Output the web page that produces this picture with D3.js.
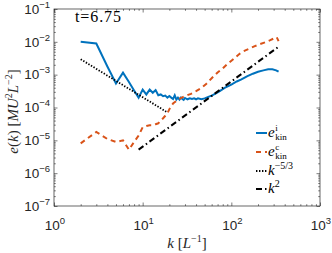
<!DOCTYPE html>
<html>
<head>
<meta charset="utf-8">
<script src="https://cdn.jsdelivr.net/npm/d3@7"></script>
<style>
body { margin: 0; background: #fff; }
svg { display: block; }
</style>
</head>
<body>
<div class="chart"></div>
<script>
// incompressible kinetic energy spectrum (blue)
var kIncomp = [2, 3, 4, 5, 6, 7, 8, 9, 10, 11, 12, 13, 14, 15, 16, 17, 18, 19, 20, 21, 22, 23, 24, 25, 26, 27, 28, 29, 30,
  32, 34, 36, 38, 40, 42, 46, 50, 55, 60, 67, 74, 85, 100, 115, 130, 150, 175, 200, 230, 260, 290, 320, 341];
var eIncomp = [1.0e-2, 8.9e-3, 1.78e-3, 5.4e-4, 1.15e-3, 6.0e-4, 3.3e-4, 2.0e-4, 3.5e-4, 2.5e-4, 3.5e-4, 2.8e-4, 3.4e-4, 2.35e-4,
  2.5e-4, 2.2e-4, 2.3e-4, 2.0e-4, 2.24e-4, 2.0e-4, 1.82e-4, 2.35e-4, 1.74e-4, 2.0e-4, 1.74e-4, 2.0e-4, 1.82e-4, 1.7e-4, 1.95e-4,
  1.78e-4, 1.9e-4, 1.82e-4, 1.9e-4, 1.78e-4, 1.9e-4, 1.78e-4, 1.9e-4, 2.1e-4, 2.3e-4, 2.7e-4, 3.16e-4, 4.0e-4, 5.0e-4,
  6.2e-4, 7.2e-4, 8.9e-4, 1.07e-3, 1.23e-3, 1.35e-3, 1.45e-3, 1.45e-3, 1.35e-3, 1.23e-3];

// compressible kinetic energy spectrum (orange, dashed)
var kComp = [2, 3, 4, 5, 6, 7, 8, 9, 10, 11, 12, 13, 14, 15, 16, 17, 18, 19, 20, 22, 25, 28, 31, 35, 40, 45, 52, 60, 70, 80,
  92, 105, 125, 142, 162, 184, 210, 250, 275, 300, 325, 341];
var eComp = [8.1e-6, 1.8e-5, 1.1e-5, 8.9e-6, 1.0e-5, 5.2e-6, 8.9e-6, 1.4e-5, 2.5e-5, 2.75e-5, 2.9e-5, 2.9e-5, 3.1e-5, 3.3e-5,
  4.0e-5, 4.7e-5, 5.6e-5, 6.6e-5, 8.9e-5, 1.32e-4, 1.74e-4, 2.04e-4, 2.3e-4, 2.6e-4, 3.16e-4, 3.8e-4, 5.2e-4, 7.8e-4,
  1.17e-3, 1.55e-3, 2.2e-3, 2.95e-3, 4.4e-3, 5.4e-3, 6.3e-3, 7.4e-3, 8.5e-3, 1.0e-2, 1.12e-2, 1.26e-2, 1.38e-2, 1.05e-2];

// reference slopes (end points)
var kFive3 = [2, 19], eFive3 = [2.95e-3, 7.1e-5];
var kSq = [9, 341], eSq = [5.2e-6, 7.1e-3];

var xTicks = [1, 10, 100, 1000], xExp = ['0', '1', '2', '3'];
var yTicks = [1e-7, 1e-6, 1e-5, 1e-4, 1e-3, 1e-2, 1e-1], yExp = ['-7', '-6', '-5', '-4', '-3', '-2', '-1'];

var width = 332, height = 253;
var plotL = 54, plotR = 320, plotT = 9, plotB = 206;
var axisColor = '#262626';
var serif = '"Liberation Serif", "DejaVu Serif", serif';
var sans = '"Liberation Sans", Arial, sans-serif';

var svg = d3.select('.chart').append('svg')
  .attr('width', width)
  .attr('height', height);

var x = d3.scaleLog().domain([1, 1000]).range([plotL, plotR]);
var y = d3.scaleLog().domain([1e-7, 1e-1]).range([plotB, plotT]);

function minors(ticks) {
  var out = [];
  ticks.slice(0, -1).forEach(function(t) {
    for (var i = 2; i < 10; i++) out.push(t * i);
  });
  return out;
}

// ticks on all four sides, pointing inward
function ticksOn(axisFn, scale, vals, size, tr) {
  var g = svg.append('g')
    .attr('transform', tr)
    .call(axisFn(scale).tickValues(vals).tickSize(size).tickSizeOuter(0).tickFormat(''));
  g.select('.domain').remove();
  g.selectAll('line').attr('stroke', axisColor).attr('stroke-width', 0.6);
}
ticksOn(d3.axisBottom, x, xTicks, -3.5, 'translate(0,' + plotB + ')');
ticksOn(d3.axisBottom, x, minors(xTicks), -1.8, 'translate(0,' + plotB + ')');
ticksOn(d3.axisTop, x, xTicks, -3.5, 'translate(0,' + plotT + ')');
ticksOn(d3.axisTop, x, minors(xTicks), -1.8, 'translate(0,' + plotT + ')');
ticksOn(d3.axisLeft, y, yTicks, -3.5, 'translate(' + plotL + ',0)');
ticksOn(d3.axisLeft, y, minors(yTicks), -1.8, 'translate(' + plotL + ',0)');
ticksOn(d3.axisRight, y, yTicks, -3.5, 'translate(' + plotR + ',0)');
ticksOn(d3.axisRight, y, minors(yTicks), -1.8, 'translate(' + plotR + ',0)');

svg.append('rect')
  .attr('x', plotL).attr('y', plotT)
  .attr('width', plotR - plotL).attr('height', plotB - plotT)
  .attr('fill', 'none')
  .attr('stroke', axisColor)
  .attr('stroke-width', 0.7);

// tick labels 10^n
xTicks.forEach(function(t, i) {
  var tx = svg.append('text')
    .attr('x', x(t) + 1).attr('y', 230)
    .attr('text-anchor', 'middle')
    .attr('fill', axisColor)
    .style('font-family', sans);
  tx.append('tspan').style('font-size', '13.5px').text('10');
  tx.append('tspan').attr('dy', -6).style('font-size', '9.5px').text(xExp[i]);
});
yTicks.forEach(function(t, i) {
  var ty = svg.append('text')
    .attr('x', 50).attr('y', y(t) + 4.7)
    .attr('text-anchor', 'end')
    .attr('fill', axisColor)
    .style('font-family', sans);
  ty.append('tspan').style('font-size', '13.5px').text('10');
  ty.append('tspan').attr('dy', -6).style('font-size', '9.5px').text(yExp[i].replace('-', '\u2212'));
});

// axis titles
var xt = svg.append('text')
  .attr('x', (plotL + plotR) / 2).attr('y', 248)
  .attr('text-anchor', 'middle')
  .attr('fill', axisColor)
  .style('font-family', serif).style('font-size', '15px');
xt.append('tspan').style('font-style', 'italic').text('k');
xt.append('tspan').text(' [');
xt.append('tspan').style('font-style', 'italic').text('L');
xt.append('tspan').attr('dy', -6).style('font-size', '10px').text('\u22121');
xt.append('tspan').attr('dy', 6).text(']');

var yt = svg.append('text')
  .attr('transform', 'translate(18,' + ((plotT + plotB) / 2 + 4) + ') rotate(-90)')
  .attr('text-anchor', 'middle')
  .attr('fill', axisColor)
  .style('font-family', serif).style('font-size', '15px');
yt.append('tspan').style('font-style', 'italic').text('e');
yt.append('tspan').text('(');
yt.append('tspan').style('font-style', 'italic').text('k');
yt.append('tspan').text(') [');
yt.append('tspan').style('font-style', 'italic').text('MU');
yt.append('tspan').attr('dy', -6).style('font-size', '10px').text('2');
yt.append('tspan').attr('dy', 6).style('font-style', 'italic').text('L');
yt.append('tspan').attr('dy', -6).style('font-size', '10px').text('\u22122');
yt.append('tspan').attr('dy', 6).text(']');

svg.append('text')
  .attr('x', 75).attr('y', 22)
  .attr('fill', '#000')
  .attr('textLength', 46)
  .style('font-family', serif).style('font-size', '16px')
  .text('t=6.75');

// lines
var line = d3.line()
  .x(function(d) { return x(d[0]); })
  .y(function(d) { return y(d[1]); });

var series = [
  { k: kIncomp, e: eIncomp, color: '#0072BD', dash: null, w: 2 },
  { k: kComp, e: eComp, color: '#D95319', dash: '5,4', w: 2 },
  { k: kFive3, e: eFive3, color: '#000', dash: '1.4,1.6', w: 1.8 },
  { k: kSq, e: eSq, color: '#000', dash: '6,3,1.5,3', w: 2 }
];

svg.append('g').selectAll('path')
  .data(series)
  .enter()
  .append('path')
  .attr('d', function(s) { return line(d3.zip(s.k, s.e)); })
  .attr('fill', 'none')
  .attr('stroke', function(s) { return s.color; })
  .attr('stroke-width', function(s) { return s.w; })
  .attr('stroke-dasharray', function(s) { return s.dash; });

// legend
var legY = [133, 152, 171, 189];
series.forEach(function(s, i) {
  svg.append('line')
    .attr('x1', 256).attr('x2', 267)
    .attr('y1', legY[i]).attr('y2', legY[i])
    .attr('stroke', s.color)
    .attr('stroke-width', s.w)
    .attr('stroke-dasharray', s.dash);
});

function eKin(sup, yy) {
  var base = svg.append('text')
    .attr('x', 268).attr('y', yy + 4)
    .style('font-family', serif).style('font-size', '15px').style('font-style', 'italic')
    .text('e');
  var w = base.node().getComputedTextLength();
  svg.append('text')
    .attr('x', 268 + w + 0.5).attr('y', yy - 2.5)
    .style('font-family', serif).style('font-size', '9px')
    .text(sup);
  svg.append('text')
    .attr('x', 268 + w + 0.5).attr('y', yy + 6.5)
    .style('font-family', serif).style('font-size', '9px')
    .text('kin');
}
eKin('i', legY[0]);
eKin('c', legY[1]);

function kPow(p, yy) {
  var t = svg.append('text')
    .attr('x', 268).attr('y', yy + 4)
    .style('font-family', serif).style('font-size', '15px');
  t.append('tspan').style('font-style', 'italic').text('k');
  t.append('tspan').attr('dy', -6).style('font-size', '10px').text(p);
}
kPow('\u22125/3', legY[2]);
kPow('2', legY[3]);
</script>
</body>
</html>
